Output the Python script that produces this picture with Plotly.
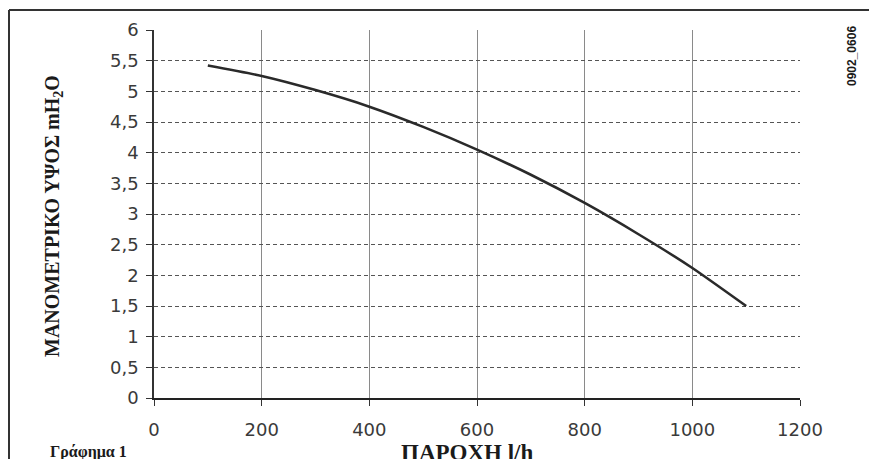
import plotly.graph_objects as go

# Pump curve data
flow_lh = [100, 200, 300, 400, 500, 600, 700, 800, 900, 1000, 1100]
head_mh2o = [5.42, 5.25, 5.02, 4.75, 4.42, 4.05, 3.64, 3.18, 2.67, 2.12, 1.5]

x_ticks = [0, 200, 400, 600, 800, 1000, 1200]
y_ticks = [0, 0.5, 1, 1.5, 2, 2.5, 3, 3.5, 4, 4.5, 5, 5.5, 6]

y_title = "ΜΑΝΟΜΕΤΡΙΚΟ ΥΨΟΣ mH<sub>2</sub>O"
x_title = "ΠΑΡΟΧΗ l/h"
caption = "Γράφημα 1"
code = "0902_0606"

W, H = 869, 459
L, R, T, B = 154, 69, 30, 61
pw, ph = W - L - R, H - T - B


def px(x):
    return (x - L) / pw


def py(y):
    return (H - B - y) / ph


fig = go.Figure()
fig.add_trace(go.Scatter(
    x=flow_lh, y=head_mh2o, mode="lines",
    line=dict(color="#2a2a2a", width=2.6, shape="spline", smoothing=0.6),
    hoverinfo="skip", showlegend=False,
))

tick_font = dict(family="DejaVu Sans", size=18, color="#3a3a3a")

fig.update_layout(
    width=W, height=H,
    margin=dict(l=L, r=R, t=T, b=B, pad=0),
    paper_bgcolor="white", plot_bgcolor="white",
    separators=",.",
    showlegend=False,
    xaxis=dict(
        range=[0, 1200], tickvals=x_ticks, ticks="outside", ticklen=6,
        tickcolor="#333", tickwidth=1, ticklabelstandoff=8,
        showgrid=True, gridcolor="#8a8a8a", gridwidth=1,
        showline=True, linecolor="#222", linewidth=2,
        zeroline=False, tickfont=tick_font, fixedrange=True,
    ),
    yaxis=dict(
        range=[0, 6], tickvals=y_ticks, ticks="outside", ticklen=6,
        tickcolor="#333", tickwidth=1, ticklabelstandoff=4,
        showgrid=True, gridcolor="#555", gridwidth=1, griddash="4px,3px",
        showline=True, linecolor="#333", linewidth=1.5,
        zeroline=False, tickfont=tick_font, fixedrange=True,
    ),
    annotations=[
        dict(text="<b>" + y_title + "</b>", textangle=-90, xref="paper", yref="paper",
             x=px(53), y=py(216), xanchor="center", yanchor="middle",
             showarrow=False,
             font=dict(family="Liberation Serif", size=20, color="#1a1a1a")),
        dict(text="<b>" + x_title + "</b>", xref="paper", yref="paper",
             x=px(467), y=py(438), xanchor="center", yanchor="top",
             showarrow=False,
             font=dict(family="Liberation Serif", size=23, color="#1a1a1a")),
        dict(text="<b>" + caption + "</b>", xref="paper", yref="paper",
             x=px(48), y=py(441), xanchor="left", yanchor="top",
             showarrow=False,
             font=dict(family="Liberation Serif", size=16, color="#1a1a1a")),
        dict(text="<b>" + code + "</b>", textangle=-90, xref="paper", yref="paper",
             x=px(852), y=py(56), xanchor="center", yanchor="middle",
             showarrow=False,
             font=dict(family="Liberation Sans", size=12, color="#1a1a1a")),
    ],
    shapes=[
        dict(type="line", xref="paper", yref="paper",
             x0=px(9), x1=px(9), y0=py(10), y1=py(480),
             line=dict(color="#333", width=2)),
        dict(type="line", xref="paper", yref="paper",
             x0=px(9), x1=px(880), y0=py(10), y1=py(10),
             line=dict(color="#333", width=2)),
    ],
)

fig.write_html(
    "out.html",
    config={"displayModeBar": False},
    post_script="document.body.style.margin='0';document.body.style.overflow='hidden';",
)
